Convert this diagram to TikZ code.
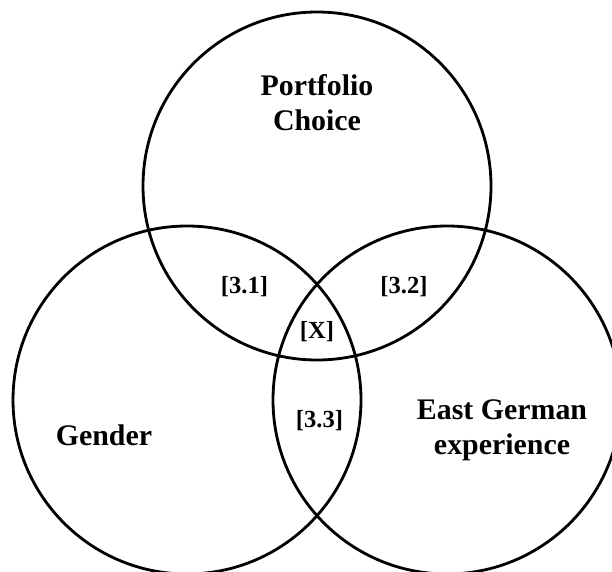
\documentclass[tikz,border=0pt]{standalone}
\usepackage{fontspec}
\setmainfont{Liberation Serif}
\usetikzlibrary{calc}

\begin{document}
\begin{tikzpicture}[scale=1.0,
  set/.style={draw, line width=1.6pt},
  setname/.style={font=\fontsize{17}{20}\selectfont\bfseries, align=center},
  region/.style={font=\fontsize{14}{16}\selectfont\bfseries}]
  \def\rad{3.48}
  \def\topx{6.34}
  \def\topy{7.70}
  \def\lowy{3.42}
  \def\gap{5.20}
  \pgfmathsetmacro{\leftx}{\topx - 0.5*\gap}
  \pgfmathsetmacro{\rightx}{\topx + 0.5*\gap}

  \useasboundingbox (0, 0) rectangle (12.24, 11.42);
  \clip (0, 0) rectangle (12.24, 11.42);

  \draw[set] (\topx, \topy) circle (\rad);
  \draw[set] (\leftx, \lowy) circle (\rad);
  \draw[set] (\rightx, \lowy) circle (\rad);

  \node[setname] (portfolio) at (\topx, 9.36) {Portfolio\\Choice};
  \node[setname] (gender) at (2.08, 2.72) {Gender};
  \node[setname] (eastgerman) at (10.04, 2.82) {East German\\experience};

  \node[region] (r31) at (4.89, 5.68) {[3.1]};
  \node[region] (r32) at (8.08, 5.68) {[3.2]};
  \node[region] (rx) at (\topx, 4.78) {[X]};
  \node[region] (r33) at (6.39, 3.00) {[3.3]};
\end{tikzpicture}
\end{document}
